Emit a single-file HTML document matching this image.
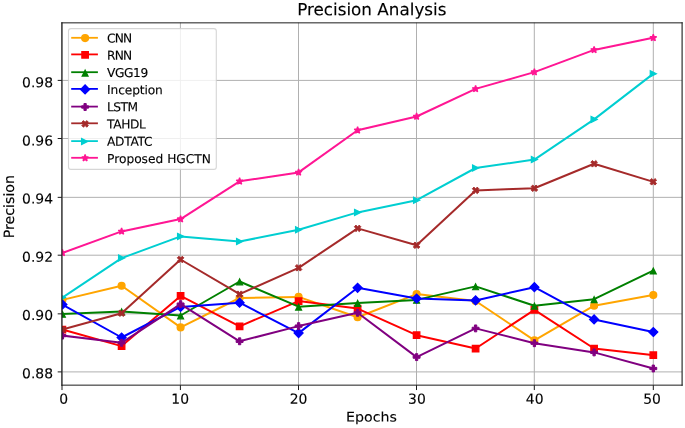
<!DOCTYPE html>
<html lang="en"><head><meta charset="utf-8"><title>Precision Analysis</title>
<style>html,body{margin:0;padding:0;background:#fff}svg{display:block}text{font-family:"DejaVu Sans","Liberation Sans",sans-serif;fill:#000;stroke:#000;stroke-width:0.12px}</style></head><body>
<svg width="685" height="428" viewBox="0 0 685 428">
<rect width="685" height="428" fill="#fff"/>
<defs><circle id="m0" r="3.400" stroke-width="1.350"/><polygon id="m1" points="-3.200,3.200 3.200,3.200 3.200,-3.200 -3.200,-3.200" stroke-width="1.350" stroke-linejoin="miter"/><polygon id="m2" points="0.000,-2.537 -2.950,3.363 2.950,3.363" stroke-width="1.200" stroke-linejoin="miter"/><polygon id="m3" points="0.000,4.455 4.455,0.000 0.000,-4.455 -4.455,0.000" stroke-width="1.300" stroke-linejoin="miter"/><polygon id="m4" points="-1.150,3.450 1.150,3.450 1.150,1.150 3.450,1.150 3.450,-1.150 1.150,-1.150 1.150,-3.450 -1.150,-3.450 -1.150,-1.150 -3.450,-1.150 -3.450,1.150 -1.150,1.150" stroke-width="1.000" stroke-linejoin="miter"/><polygon id="m5" points="-1.650,3.300 0.000,1.650 1.650,3.300 3.300,1.650 1.650,-0.000 3.300,-1.650 1.650,-3.300 0.000,-1.650 -1.650,-3.300 -3.300,-1.650 -1.650,-0.000 -3.300,1.650" stroke-width="0.900" stroke-linejoin="miter"/><polygon id="m6" points="3.050,0.000 -3.050,-3.050 -3.050,3.050" stroke-width="1.200" stroke-linejoin="miter"/><polygon id="m7" points="0.000,-3.500 -0.786,-1.081 -3.329,-1.081 -1.271,0.413 -2.057,2.832 0.000,1.337 2.057,2.832 1.271,0.413 3.329,-1.081 0.786,-1.081" stroke-width="1.350" stroke-linejoin="bevel"/>
<clipPath id="ax"><rect x="62.0" y="22.6" width="620.00" height="362.30"/></clipPath><filter id="soft" filterUnits="userSpaceOnUse" x="0" y="0" width="685" height="428"><feGaussianBlur stdDeviation="0.35"/></filter></defs>
<path d="M62.00 22.6V384.9M180.40 22.6V384.9M298.50 22.6V384.9M416.50 22.6V384.9M534.30 22.6V384.9M653.30 22.6V384.9M62.0 371.90H682.0M62.0 313.85H682.0M62.0 255.20H682.0M62.0 197.35H682.0M62.0 138.50H682.0M62.0 80.40H682.0" stroke="#b0b0b0" stroke-width="1.000" fill="none"/>
<path d="M62.00 385.15v4.90M180.40 385.15v4.90M298.50 385.15v4.90M416.50 385.15v4.90M534.30 385.15v4.90M653.30 385.15v4.90M61.9 371.90h-4.20M61.9 313.85h-4.20M61.9 255.20h-4.20M61.9 197.35h-4.20M61.9 138.50h-4.20M61.9 80.40h-4.20" stroke="#1a1a1a" stroke-width="1.0" fill="none"/>
<g clip-path="url(#ax)"><g filter="url(#soft)">
<path d="M62.40 299.90 L121.60 285.80 L180.60 327.40 L239.60 298.00 L298.60 296.90 L357.60 317.30 L416.60 294.10 L475.60 301.00 L534.40 340.40 L594.10 305.70 L653.30 295.00" stroke="#ffa500" stroke-width="2.000" fill="none" stroke-linejoin="round" stroke-linecap="square"/>
<g fill="#ffa500" stroke="#ffa500"><use href="#m0" x="62.40" y="299.90"/><use href="#m0" x="121.60" y="285.80"/><use href="#m0" x="180.60" y="327.40"/><use href="#m0" x="239.60" y="298.00"/><use href="#m0" x="298.60" y="296.90"/><use href="#m0" x="357.60" y="317.30"/><use href="#m0" x="416.60" y="294.10"/><use href="#m0" x="475.60" y="301.00"/><use href="#m0" x="534.40" y="340.40"/><use href="#m0" x="594.10" y="305.70"/><use href="#m0" x="653.30" y="295.00"/></g>
<path d="M62.40 329.50 L121.60 346.10 L180.60 295.90 L239.60 326.30 L298.60 301.10 L357.60 308.60 L416.60 335.20 L475.60 348.50 L534.40 309.90 L594.10 348.50 L653.30 355.20" stroke="#ff0000" stroke-width="2.000" fill="none" stroke-linejoin="round" stroke-linecap="square"/>
<g fill="#ff0000" stroke="#ff0000"><use href="#m1" x="62.40" y="329.50"/><use href="#m1" x="121.60" y="346.10"/><use href="#m1" x="180.60" y="295.90"/><use href="#m1" x="239.60" y="326.30"/><use href="#m1" x="298.60" y="301.10"/><use href="#m1" x="357.60" y="308.60"/><use href="#m1" x="416.60" y="335.20"/><use href="#m1" x="475.60" y="348.50"/><use href="#m1" x="534.40" y="309.90"/><use href="#m1" x="594.10" y="348.50"/><use href="#m1" x="653.30" y="355.20"/></g>
<path d="M62.40 313.90 L121.60 311.50 L180.60 315.50 L239.60 281.50 L298.60 306.70 L357.60 303.00 L416.60 299.90 L475.60 286.40 L534.40 305.70 L594.10 299.20 L653.30 270.60" stroke="#008000" stroke-width="2.000" fill="none" stroke-linejoin="round" stroke-linecap="square"/>
<g fill="#008000" stroke="#008000"><use href="#m2" x="62.40" y="313.90"/><use href="#m2" x="121.60" y="311.50"/><use href="#m2" x="180.60" y="315.50"/><use href="#m2" x="239.60" y="281.50"/><use href="#m2" x="298.60" y="306.70"/><use href="#m2" x="357.60" y="303.00"/><use href="#m2" x="416.60" y="299.90"/><use href="#m2" x="475.60" y="286.40"/><use href="#m2" x="534.40" y="305.70"/><use href="#m2" x="594.10" y="299.20"/><use href="#m2" x="653.30" y="270.60"/></g>
<path d="M62.40 304.50 L121.60 337.50 L180.60 306.90 L239.60 302.70 L298.60 333.10 L357.60 287.80 L416.60 298.50 L475.60 300.40 L534.40 287.20 L594.10 319.40 L653.30 332.00" stroke="#0000ff" stroke-width="2.000" fill="none" stroke-linejoin="round" stroke-linecap="square"/>
<g fill="#0000ff" stroke="#0000ff"><use href="#m3" x="62.40" y="304.50"/><use href="#m3" x="121.60" y="337.50"/><use href="#m3" x="180.60" y="306.90"/><use href="#m3" x="239.60" y="302.70"/><use href="#m3" x="298.60" y="333.10"/><use href="#m3" x="357.60" y="287.80"/><use href="#m3" x="416.60" y="298.50"/><use href="#m3" x="475.60" y="300.40"/><use href="#m3" x="534.40" y="287.20"/><use href="#m3" x="594.10" y="319.40"/><use href="#m3" x="653.30" y="332.00"/></g>
<path d="M62.40 335.60 L121.60 342.80 L180.60 304.10 L239.60 341.30 L298.60 326.10 L357.60 312.80 L416.60 357.10 L475.60 328.40 L534.40 343.20 L594.10 352.40 L653.30 368.50" stroke="#800080" stroke-width="2.000" fill="none" stroke-linejoin="round" stroke-linecap="square"/>
<g fill="#800080" stroke="#800080"><use href="#m4" x="62.40" y="335.60"/><use href="#m4" x="121.60" y="342.80"/><use href="#m4" x="180.60" y="304.10"/><use href="#m4" x="239.60" y="341.30"/><use href="#m4" x="298.60" y="326.10"/><use href="#m4" x="357.60" y="312.80"/><use href="#m4" x="416.60" y="357.10"/><use href="#m4" x="475.60" y="328.40"/><use href="#m4" x="534.40" y="343.20"/><use href="#m4" x="594.10" y="352.40"/><use href="#m4" x="653.30" y="368.50"/></g>
<path d="M62.40 329.50 L121.60 313.20 L180.60 259.50 L239.60 294.20 L298.60 267.80 L357.60 228.40 L416.60 245.30 L475.60 190.40 L534.40 188.30 L594.10 163.80 L653.30 181.80" stroke="#a52a2a" stroke-width="2.000" fill="none" stroke-linejoin="round" stroke-linecap="square"/>
<g fill="#a52a2a" stroke="#a52a2a"><use href="#m5" x="62.40" y="329.50"/><use href="#m5" x="121.60" y="313.20"/><use href="#m5" x="180.60" y="259.50"/><use href="#m5" x="239.60" y="294.20"/><use href="#m5" x="298.60" y="267.80"/><use href="#m5" x="357.60" y="228.40"/><use href="#m5" x="416.60" y="245.30"/><use href="#m5" x="475.60" y="190.40"/><use href="#m5" x="534.40" y="188.30"/><use href="#m5" x="594.10" y="163.80"/><use href="#m5" x="653.30" y="181.80"/></g>
<path d="M62.40 297.50 L121.60 258.10 L180.60 236.40 L239.60 241.60 L298.60 229.70 L357.60 212.40 L416.60 200.20 L475.60 168.00 L534.40 159.60 L594.10 119.40 L653.30 73.70" stroke="#00ced1" stroke-width="2.000" fill="none" stroke-linejoin="round" stroke-linecap="square"/>
<g fill="#00ced1" stroke="#00ced1"><use href="#m6" x="62.40" y="297.50"/><use href="#m6" x="121.60" y="258.10"/><use href="#m6" x="180.60" y="236.40"/><use href="#m6" x="239.60" y="241.60"/><use href="#m6" x="298.60" y="229.70"/><use href="#m6" x="357.60" y="212.40"/><use href="#m6" x="416.60" y="200.20"/><use href="#m6" x="475.60" y="168.00"/><use href="#m6" x="534.40" y="159.60"/><use href="#m6" x="594.10" y="119.40"/><use href="#m6" x="653.30" y="73.70"/></g>
<path d="M62.40 252.90 L121.60 231.40 L180.60 219.10 L239.60 181.30 L298.60 172.40 L357.60 130.30 L416.60 116.50 L475.60 88.90 L534.40 72.10 L594.10 49.90 L653.30 37.80" stroke="#ff1493" stroke-width="2.000" fill="none" stroke-linejoin="round" stroke-linecap="square"/>
<g fill="#ff1493" stroke="#ff1493"><use href="#m7" x="62.40" y="252.90"/><use href="#m7" x="121.60" y="231.40"/><use href="#m7" x="180.60" y="219.10"/><use href="#m7" x="239.60" y="181.30"/><use href="#m7" x="298.60" y="172.40"/><use href="#m7" x="357.60" y="130.30"/><use href="#m7" x="416.60" y="116.50"/><use href="#m7" x="475.60" y="88.90"/><use href="#m7" x="534.40" y="72.10"/><use href="#m7" x="594.10" y="49.90"/><use href="#m7" x="653.30" y="37.80"/></g>
</g></g>
<g stroke="#1c1c1c" fill="none" stroke-linecap="square"><path d="M61.9 22.85V385.15" stroke-width="1.2"/><path d="M682.1 22.85V385.15" stroke-width="1.1"/><path d="M61.9 22.85H682.1" stroke-width="1.0"/><path d="M61.9 385.15H682.1" stroke-width="1.0"/></g>
<text transform="translate(63.70 403.80) rotate(0.03)" font-size="13.9" text-anchor="middle">0</text>
<text transform="translate(180.20 403.80) rotate(0.03)" font-size="13.9" text-anchor="middle">10</text>
<text transform="translate(298.50 403.80) rotate(0.03)" font-size="13.9" text-anchor="middle">20</text>
<text transform="translate(416.90 403.80) rotate(0.03)" font-size="13.9" text-anchor="middle">30</text>
<text transform="translate(534.70 403.80) rotate(0.03)" font-size="13.9" text-anchor="middle">40</text>
<text transform="translate(652.00 403.80) rotate(0.03)" font-size="13.9" text-anchor="middle">50</text>
<text transform="translate(53.00 378.20) rotate(0.03) scale(1 0.98)" font-size="13.9" text-anchor="end">0.88</text>
<text transform="translate(53.00 320.00) rotate(0.03) scale(1 0.98)" font-size="13.9" text-anchor="end">0.90</text>
<text transform="translate(53.00 261.80) rotate(0.03) scale(1 0.98)" font-size="13.9" text-anchor="end">0.92</text>
<text transform="translate(53.00 203.60) rotate(0.03) scale(1 0.98)" font-size="13.9" text-anchor="end">0.94</text>
<text transform="translate(53.00 145.40) rotate(0.03) scale(1 0.98)" font-size="13.9" text-anchor="end">0.96</text>
<text transform="translate(53.00 87.20) rotate(0.03) scale(1 0.98)" font-size="13.9" text-anchor="end">0.98</text>
<text transform="translate(371.50 421.60) rotate(0.03) scale(1 0.93)" font-size="14.2" text-anchor="middle">Epochs</text>
<text transform="translate(13.90 206.60) rotate(-89.97)" font-size="14.2" text-anchor="middle">Precision</text>
<text transform="translate(371.80 15.20) rotate(0.03)" font-size="16.8" text-anchor="middle">Precision Analysis</text>
<rect x="68.5" y="28.6" width="147.80" height="140.80" rx="2.4" ry="2.4" fill="#fff" fill-opacity="0.8" stroke="#ccc" stroke-opacity="0.8" stroke-width="1.111"/>
<g filter="url(#soft)"><path d="M72.10 37.80h24.90" stroke="#ffa500" stroke-width="1.8" stroke-linecap="square"/>
<use href="#m0" x="85.10" y="38.10" fill="#ffa500" stroke="#ffa500"/></g>
<text transform="translate(107.00 42.40) rotate(0.03)" font-size="12.22" text-anchor="start" letter-spacing="-0.8">CNN</text>
<g filter="url(#soft)"><path d="M72.10 54.40h24.90" stroke="#ff0000" stroke-width="1.8" stroke-linecap="square"/>
<use href="#m1" x="85.10" y="54.80" fill="#ff0000" stroke="#ff0000"/></g>
<text transform="translate(107.00 59.64) rotate(0.03)" font-size="12.22" text-anchor="start" letter-spacing="-0.8">RNN</text>
<g filter="url(#soft)"><path d="M72.10 72.20h24.90" stroke="#008000" stroke-width="1.8" stroke-linecap="square"/>
<use href="#m2" x="85.10" y="72.70" fill="#008000" stroke="#008000"/></g>
<text transform="translate(107.00 76.88) rotate(0.03)" font-size="12.22" text-anchor="start" letter-spacing="-0.4">VGG19</text>
<g filter="url(#soft)"><path d="M72.10 88.90h24.90" stroke="#0000ff" stroke-width="1.8" stroke-linecap="square"/>
<use href="#m3" x="85.10" y="89.40" fill="#0000ff" stroke="#0000ff"/></g>
<text transform="translate(107.00 94.12) rotate(0.03)" font-size="12.22" text-anchor="start" letter-spacing="-0.11">Inception</text>
<g filter="url(#soft)"><path d="M72.10 106.60h24.90" stroke="#800080" stroke-width="1.8" stroke-linecap="square"/>
<use href="#m4" x="85.10" y="107.00" fill="#800080" stroke="#800080"/></g>
<text transform="translate(107.00 111.36) rotate(0.03)" font-size="12.22" text-anchor="start" letter-spacing="-0.5">LSTM</text>
<g filter="url(#soft)"><path d="M72.10 123.30h24.90" stroke="#a52a2a" stroke-width="1.8" stroke-linecap="square"/>
<use href="#m5" x="85.10" y="123.90" fill="#a52a2a" stroke="#a52a2a"/></g>
<text transform="translate(107.00 128.60) rotate(0.03)" font-size="12.22" text-anchor="start" letter-spacing="-0.35">TAHDL</text>
<g filter="url(#soft)"><path d="M72.10 141.10h24.90" stroke="#00ced1" stroke-width="1.8" stroke-linecap="square"/>
<use href="#m6" x="84.60" y="141.60" fill="#00ced1" stroke="#00ced1"/></g>
<text transform="translate(107.00 145.84) rotate(0.03)" font-size="12.22" text-anchor="start" letter-spacing="-0.3">ADTATC</text>
<g filter="url(#soft)"><path d="M72.10 157.80h24.90" stroke="#ff1493" stroke-width="1.8" stroke-linecap="square"/>
<use href="#m7" x="85.10" y="158.00" fill="#ff1493" stroke="#ff1493"/></g>
<text transform="translate(107.00 163.08) rotate(0.03)" font-size="12.22" text-anchor="start">Proposed HGCTN</text>
</svg></body></html>
